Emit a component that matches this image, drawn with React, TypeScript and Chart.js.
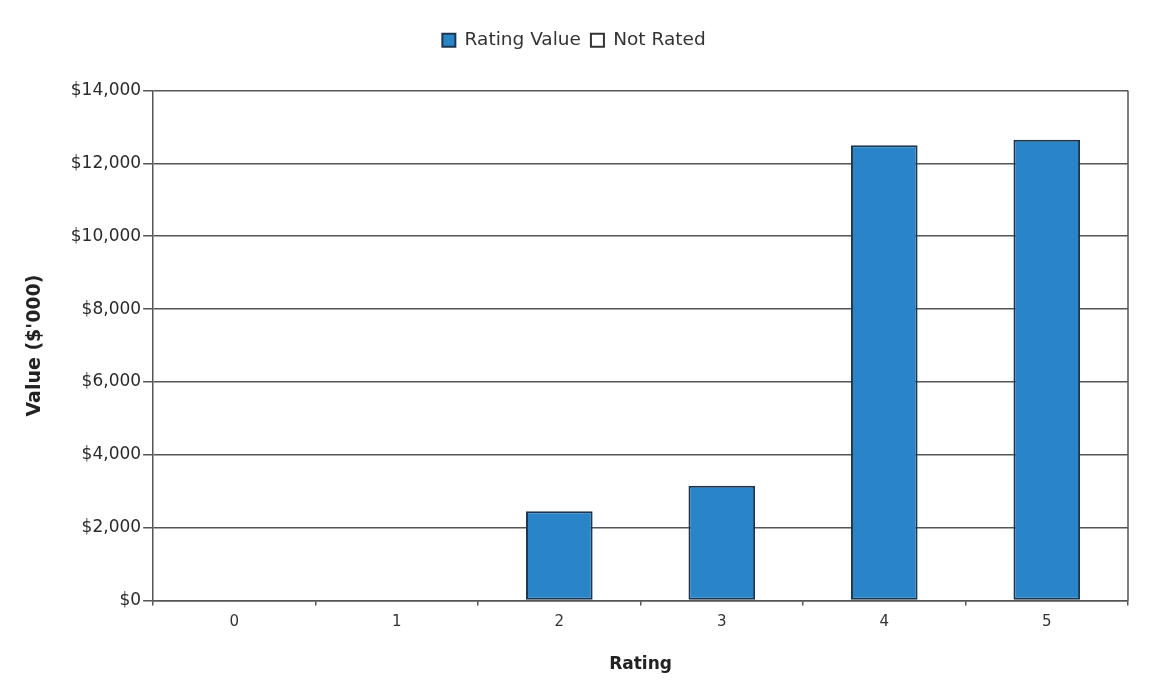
import React, { useEffect, useRef } from "react";
import { Chart, registerables } from "chart.js";

Chart.register(...registerables);

const categories = ["0", "1", "2", "3", "4", "5"];
const ratingValues = [0, 0, 2450, 3150, 12500, 12650];
const notRatedValues = [0, 0, 0, 0, 0, 0];
const yTicks = [0, 2000, 4000, 6000, 8000, 10000, 12000, 14000];

const FONT = "'DejaVu Sans', Verdana, sans-serif";

const borderPlugin = {
  id: "plotBorder",
  afterDraw(chart: any) {
    const { ctx, chartArea } = chart;
    ctx.save();
    ctx.strokeStyle = "#555";
    ctx.lineWidth = 1.5;
    ctx.beginPath();
    ctx.moveTo(chartArea.right, chartArea.top);
    ctx.lineTo(chartArea.right, chartArea.bottom);
    ctx.stroke();
    ctx.restore();
  },
};

const legendSpacer = {
  id: "legendSpacer",
  beforeInit(chart: any) {
    const legend = chart.legend;
    const origFit = legend.fit;
    legend.fit = function () {
      origFit.bind(legend)();
      this.height += 31;
    };
  },
};

export default function App() {
  const ref = useRef<HTMLCanvasElement | null>(null);
  useEffect(() => {
    document.body.style.margin = "0";
    const chart = new Chart(ref.current as HTMLCanvasElement, {
      type: "bar",
      data: {
        labels: categories,
        datasets: [
          {
            label: "Rating Value",
            data: ratingValues,
            backgroundColor: "#2a85c8",
            borderColor: "#1d3650",
            borderWidth: 2,
            borderSkipped: false,
            grouped: false,
            categoryPercentage: 1,
            barPercentage: 0.41,
          } as any,
          {
            label: "Not Rated",
            data: notRatedValues,
            backgroundColor: "#ffffff",
            borderColor: "#333333",
            borderWidth: 2,
            grouped: false,
            categoryPercentage: 1,
            barPercentage: 0.41,
          } as any,
        ],
      },
      plugins: [borderPlugin, legendSpacer],
      options: {
        animation: false,
        responsive: false,
        layout: { padding: { left: 20, right: 35, top: 21, bottom: 6 } },
        plugins: {
          tooltip: { enabled: false },
          legend: {
            position: "top",
            labels: {
              boxWidth: 13,
              boxHeight: 13,
              color: "#333",
              font: { family: FONT, size: 18.5 },
              padding: 10,
            },
          },
        },
        scales: {
          x: {
            grid: {
              offset: true,
              drawOnChartArea: false,
              color: "#555",
              tickLength: 5,
              lineWidth: 1.5,
            },
            border: { color: "#555", width: 1.5 },
            ticks: {
              color: "#333",
              font: { family: FONT, size: 15 },
              padding: 8,
            },
            title: {
              display: true,
              text: "Rating",
              color: "#222",
              font: { family: FONT, size: 17, weight: "bold" },
              padding: { top: 15, bottom: 3 },
            },
          },
          y: {
            min: 0,
            max: 14000,
            afterBuildTicks(axis: any) {
              axis.ticks = yTicks.map((v) => ({ value: v }));
            },
            grid: { color: "#555", lineWidth: 1.5, tickLength: 10 },
            border: { color: "#555", width: 1.5 },
            ticks: {
              color: "#2a2a2a",
              font: { family: FONT, size: 17 },
              padding: 2,
              callback: (v: any) => "$" + Number(v).toLocaleString("en-US"),
            },
            title: {
              display: true,
              text: "Value ($'000)",
              color: "#222",
              font: { family: FONT, size: 19, weight: "bold" },
              padding: { top: 4, bottom: 22 },
            },
          },
        },
      },
    });
    return () => chart.destroy();
  }, []);
  return (
    <div style={{ width: 1163, height: 684, background: "#fff" }}>
      <canvas ref={ref} width={1163} height={684} />
    </div>
  );
}
